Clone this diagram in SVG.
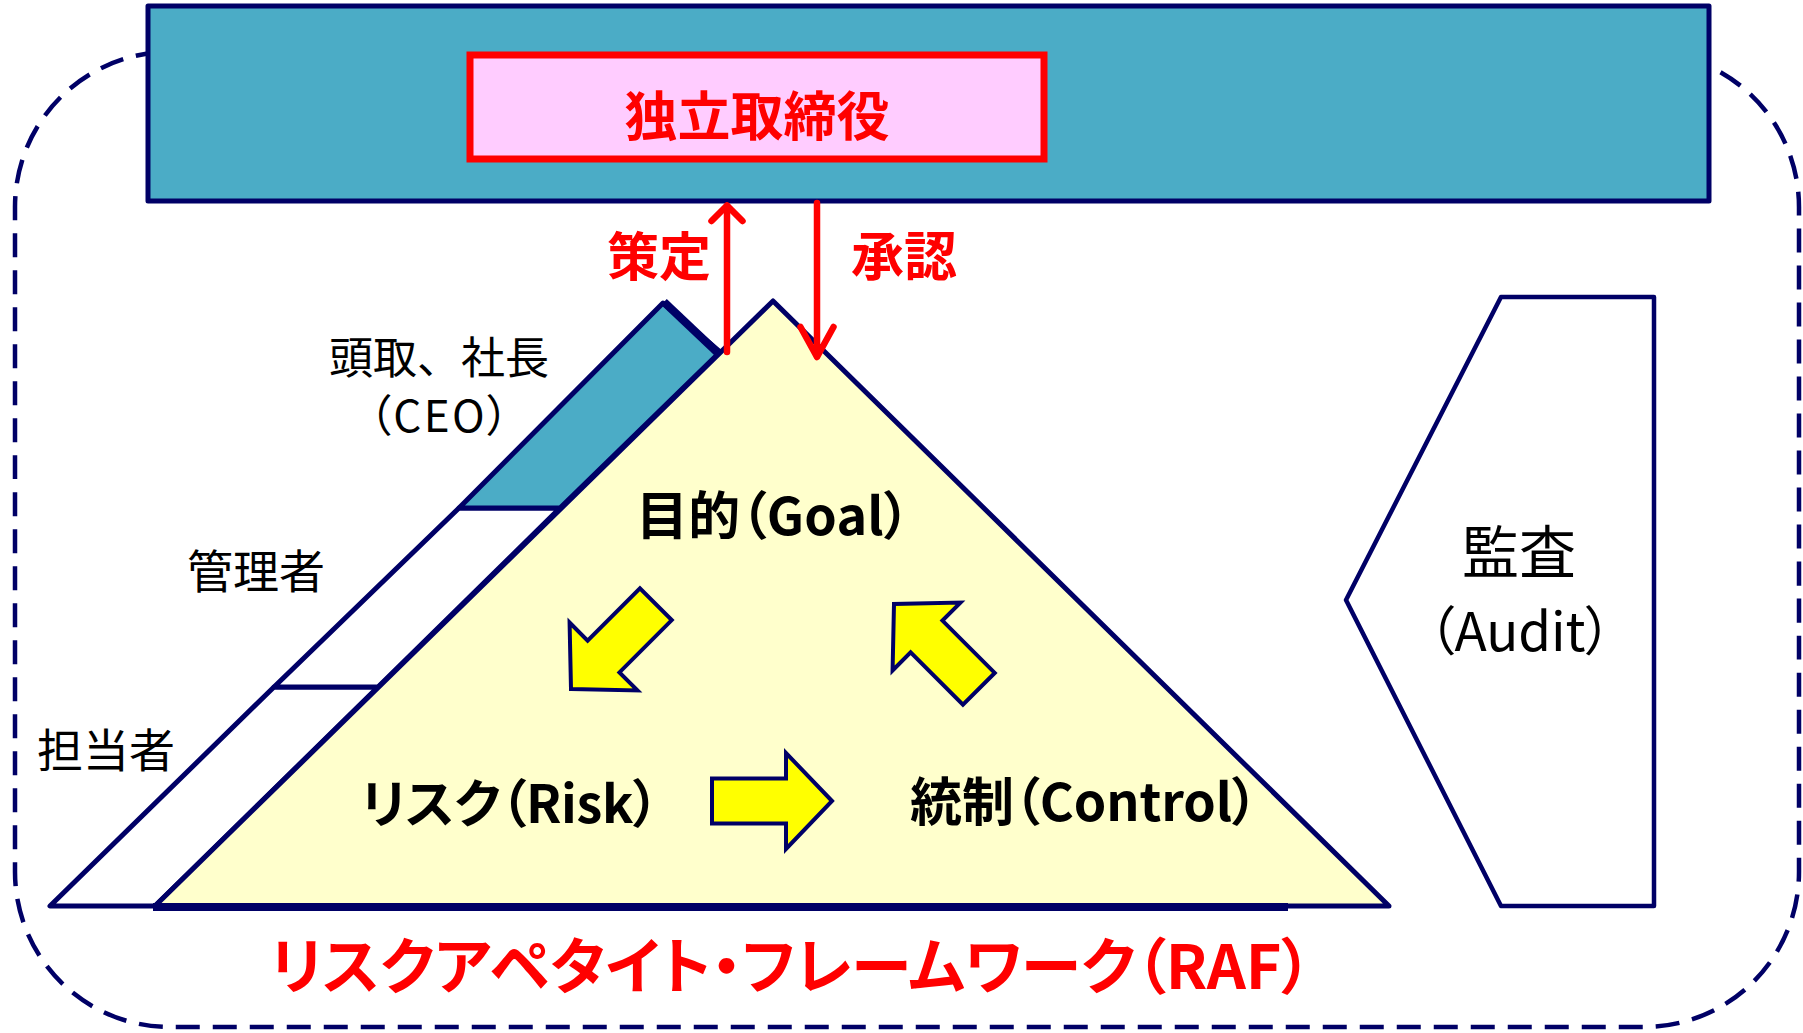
<svg xmlns="http://www.w3.org/2000/svg" xmlns:xlink="http://www.w3.org/1999/xlink" width="1803" height="1033" viewBox="0 0 1803 1033">
  <defs>
    <style>
      .nv { stroke: #000066; stroke-linejoin: round; }
      .t { font-family: "Noto Sans CJK JP", "Noto Sans", sans-serif; text-anchor: middle; dominant-baseline: central; font-feature-settings: "palt"; }
      .np { font-feature-settings: normal; }
      .red { fill: #FF0000; font-weight: bold; }
      .blk { fill: #000000; }
      .bold { font-weight: bold; }
      .ra { stroke: #FF0000; stroke-width: 6.5; fill: none; stroke-linecap: round; stroke-linejoin: round; }
      .ya { fill: #FFFF00; stroke: #000066; stroke-width: 4; stroke-linejoin: miter; }
    </style>
    <polygon id="blockArrow" points="0,0 -46,-48 -46,-22.5 -120,-22.5 -120,22.5 -46,22.5 -46,48"/>
  </defs>

  <rect width="1803" height="1033" fill="#FFFFFF"/>

  <g id="raf-frame">
    <rect x="15" y="52" width="1784" height="975" rx="155" ry="155" fill="none" stroke="#000066" stroke-width="4.5" stroke-dasharray="24 13"/>
    <text class="t red" x="791" y="962" font-size="61" textLength="1042" lengthAdjust="spacing">リスクアペタイト・フレームワーク（RAF）</text>
  </g>

  <g id="board">
    <rect x="148" y="6" width="1561" height="195" fill="#4BACC6" class="nv" stroke-width="5"/>
  </g>

  <g id="independent-directors">
    <rect x="470" y="55" width="574" height="104" fill="#FFCCFF" stroke="#FF0000" stroke-width="7"/>
    <text class="t red" x="757" y="113" font-size="53">独立取締役</text>
  </g>

  <g id="staff">
    <polygon points="274,687 50,906 155,906 378,687" fill="#FFFFFF" class="nv" stroke-width="5"/>
    <text class="t blk" x="106" y="747" font-size="46">担当者</text>
  </g>

  <g id="manager">
    <polygon points="459,508 274,687 378,687 560,508" fill="#FFFFFF" class="nv" stroke-width="5"/>
    <text class="t blk" x="256" y="568" font-size="46">管理者</text>
  </g>

  <g id="ceo">
    <polygon points="663,303 459,508 560,508 720,352" fill="#4BACC6" class="nv" stroke-width="5"/>
    <line x1="664" y1="302" x2="720" y2="355" stroke="#000066" stroke-width="8"/>
    <text class="t np blk" x="439" y="355" font-size="44">頭取、社長</text>
    <text class="t blk" x="439" y="413" font-size="44" textLength="140" lengthAdjust="spacing">（CEO）</text>
  </g>

  <g id="raf-pyramid">
    <polygon points="773,301 155,906 1389,906" fill="#FFFFCC" class="nv" stroke-width="5"/>
    <line x1="153" y1="907" x2="1288" y2="907" stroke="#000066" stroke-width="8"/>
  </g>

  <g id="goal">
    <text class="t blk bold" x="773" y="512" font-size="52" textLength="274" lengthAdjust="spacing">目的（Goal）</text>
  </g>

  <g id="risk">
    <text class="t blk bold" x="510" y="800" font-size="52" textLength="298" lengthAdjust="spacing">リスク（Risk）</text>
  </g>

  <g id="control">
    <text class="t blk bold" x="1084" y="798" font-size="52" textLength="348" lengthAdjust="spacing">統制（Control）</text>
  </g>

  <g id="audit">
    <polygon points="1501,297 1654,297 1654,906 1501,906 1346,600" fill="#FFFFFF" class="nv" stroke-width="4.5"/>
    <text class="t blk" x="1519" y="548" font-size="57">監査</text>
    <text class="t blk" x="1520" y="628" font-size="53" textLength="184" lengthAdjust="spacing">（Audit）</text>
  </g>

  <g id="connectors">
    <g id="formulate">
      <line class="ra" x1="727" y1="352" x2="727" y2="206"/>
      <polyline class="ra" points="711.5,221 727,205.5 742.5,221"/>
      <text class="t red" x="659" y="253" font-size="52">策定</text>
    </g>
    <g id="approve">
      <line class="ra" x1="817" y1="203" x2="817" y2="356"/>
      <polyline class="ra" points="800.5,327 817,357 833.5,327"/>
      <text class="t red" x="904" y="253" font-size="53">承認</text>
    </g>
    <use xlink:href="#blockArrow" href="#blockArrow" class="ya" transform="translate(571,689) rotate(135)"/>
    <use xlink:href="#blockArrow" href="#blockArrow" class="ya" transform="translate(832,801)"/>
    <use xlink:href="#blockArrow" href="#blockArrow" class="ya" transform="translate(894,604) rotate(-135)"/>
  </g>
</svg>
